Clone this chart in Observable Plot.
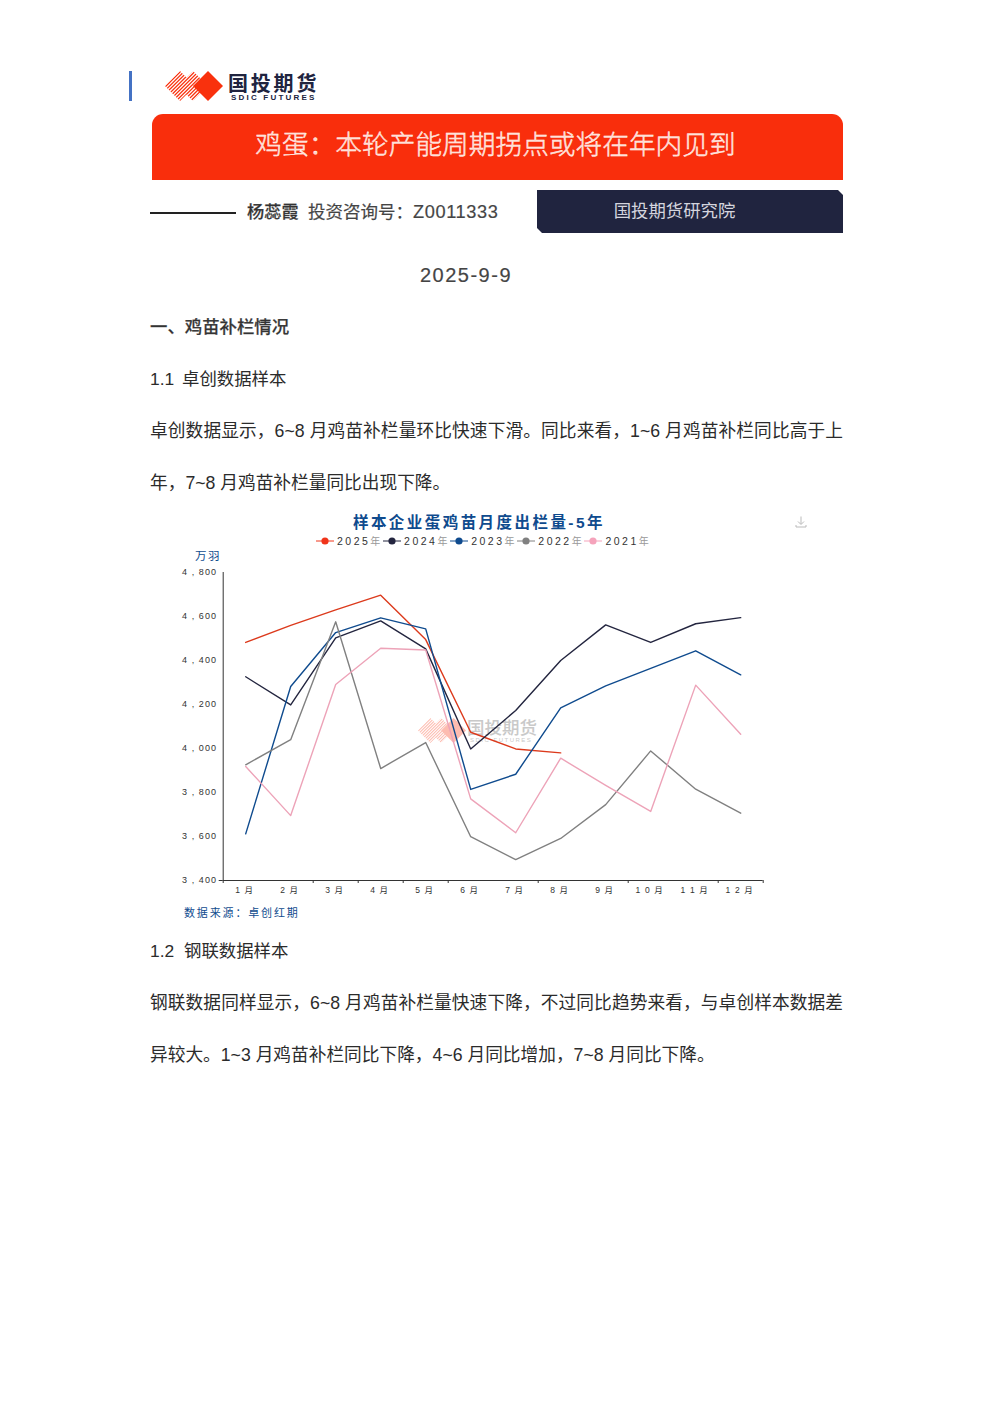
<!DOCTYPE html>
<html lang="zh">
<head>
<meta charset="utf-8">
<script src="https://cdn.jsdelivr.net/npm/d3@7"></script>
<script src="https://cdn.jsdelivr.net/npm/@observablehq/plot@0.6"></script>
<style>
html,body{margin:0;padding:0;background:#fff;}
#page{position:relative;width:992px;height:1403px;overflow:hidden;font-family:"Liberation Sans","Noto Sans CJK SC",sans-serif;color:#2b2b2b;}
.t{position:absolute;white-space:nowrap;line-height:1;}
.body{font-size:17.7px;left:150px;}
.head{font-size:17.4px;left:150px;}
.just{width:693px;white-space:normal;text-align:justify;text-align-last:justify;}
.bold{font-weight:500;color:#333;-webkit-text-stroke:.25px #555;}
svg{display:block;}
.abs{position:absolute;}
</style>
</head>
<body>
<div id="page"></div>
<script>
const months = ["1月","2月","3月","4月","5月","6月","7月","8月","9月","10月","11月","12月"];
const yearNames = ["2025年","2024年","2023年","2022年","2021年"];
const yearColors = ["#dc3a1c","#23253f","#0f4b8e","#808080","#eda3b8"];
const dotColors = ["#f0341a","#23253f","#0f4b8e","#808080","#f5a3bb"];
const v2025 = [4482,4560,4630,4697,4495,4074,3998,3980];
const v2024 = [4326,4198,4503,4580,4453,3998,4173,4400,4562,4482,4567,4595];
const v2023 = [3612,4282,4527,4594,4544,3814,3883,4185,4285,4364,4444,4335];
const v2022 = [3926,4040,4576,3909,4027,3599,3495,3591,3745,3989,3815,3706];
const v2021 = [3918,3695,4291,4456,4448,3771,3617,3956,3832,3714,4288,4065];
const yTicks = [3400,3600,3800,4000,4200,4400,4600,4800];
const xTickEdges = [0.5,2.5,3.5,4.5,5.5,7.5,9.5,11.5,12.5];
const series = [v2025,v2024,v2023,v2022,v2021];
const rows = series.flatMap((vals,s)=>vals.map((v,i)=>({m:i+1,v,s})));

const page = document.getElementById("page");
function add(html){page.insertAdjacentHTML("beforeend",html);}
let logoId=0;
function logoMark(left,top,w,h,opacity){
  const id="lg"+(logoId++);
  let stripes="";
  for(let x=-32;x<50;x+=3.6) stripes+=`<line x1="${x}" y1="30" x2="${x+30}" y2="0"/>`;
  return `<svg class="abs" style="left:${left}px;top:${top}px;opacity:${opacity}" width="${w}" height="${h}" viewBox="0 0 58 30">
  <defs><clipPath id="${id}"><path d="M15 0L30 15L15 30L0 15Z M28 0L43 15L28 30L13 15Z"/></clipPath></defs>
  <g clip-path="url(#${id})" stroke="#f9310d" stroke-width="1.25">${stripes}</g>
  <path d="M43 0L58 15L43 30L28 15Z" fill="#f9310d"/></svg>`;
}

// page header
add(`<div class="abs" style="left:129px;top:71px;width:3px;height:30px;background:#4472c4"></div>`);
add(logoMark(165,71,58,30,1));
add(`<div class="t" style="left:228px;top:74px;font-size:20px;font-weight:700;color:#20243f;letter-spacing:2.8px;">国投期货</div>`);
add(`<div class="t" style="left:231px;top:94px;font-size:8px;font-weight:700;color:#20243f;letter-spacing:2.2px;">SDIC FUTURES</div>`);
add(`<div class="abs" style="left:152px;top:114px;width:691px;height:66px;background:#f92e0c;border-radius:11px 11px 0 0"></div>`);
add(`<div class="t" style="left:152px;width:687px;text-align:center;top:132px;font-size:26.7px;color:#ffd6c8;font-weight:300;-webkit-text-stroke:.4px #fff;">鸡蛋：本轮产能周期拐点或将在年内见到</div>`);
add(`<div class="abs" style="left:150px;top:212px;width:86px;height:2px;background:#222"></div>`);
add(`<div class="t bold" style="left:247px;top:204px;font-size:17.2px;">杨蕊霞</div>`);
add(`<div class="t" style="left:308px;top:204px;font-size:17.5px;color:#444;-webkit-text-stroke:.2px #555;">投资咨询号：</div>`);
add(`<div class="t" style="left:413px;top:203px;font-size:18.2px;color:#444;letter-spacing:.6px;-webkit-text-stroke:.2px #555;">Z0011333</div>`);
add(`<div class="abs" style="left:537px;top:190px;width:306px;height:43px;background:#20243f;clip-path:polygon(0 0,calc(100% - 5px) 0,100% 5px,100% 100%,5px 100%,0 calc(100% - 5px))"></div>`);
add(`<div class="t" style="left:537px;width:275px;text-align:center;top:203px;font-size:17.4px;color:#d4d5de;">国投期货研究院</div>`);
add(`<div class="t" style="left:366px;width:200px;text-align:center;top:265px;font-size:20px;letter-spacing:1.5px;color:#444;-webkit-text-stroke:.2px #555;">2025-9-9</div>`);

// page text
add(`<div class="t head bold" style="top:319px;">一、鸡苗补栏情况</div>`);
add(`<div class="t head" style="top:370.5px;">1.1<span style="display:inline-block;width:7.8px"></span>卓创数据样本</div>`);
add(`<div class="t body just" style="top:423px;">卓创数据显示，6~8 月鸡苗补栏量环比快速下滑。同比来看，1~6 月鸡苗补栏同比高于上</div>`);
add(`<div class="t body" style="top:475px;">年，7~8 月鸡苗补栏量同比出现下降。</div>`);
add(`<div class="t head" style="top:942.5px;">1.2<span style="display:inline-block;width:9.8px"></span>钢联数据样本</div>`);
add(`<div class="t body just" style="top:995px;">钢联数据同样显示，6~8 月鸡苗补栏量快速下降，不过同比趋势来看，与卓创样本数据差</div>`);
add(`<div class="t body" style="top:1047px;">异较大。1~3 月鸡苗补栏同比下降，4~6 月同比增加，7~8 月同比下降。</div>`);

// chart title, legend, unit
add(`<div class="t" style="left:329px;width:300px;text-align:center;top:514.5px;font-size:15.5px;font-weight:700;color:#0f4b8e;letter-spacing:2.45px;">样本企业蛋鸡苗月度出栏量-5年</div>`);
yearNames.forEach((name,i)=>{
  const x=316+i*67.1;
  add(`<svg class="abs" style="left:${x}px;top:535px" width="18" height="12"><line x1="0" x2="18" y1="6" y2="6" stroke="${dotColors[i]}" stroke-width="1"/><circle cx="9" cy="6" r="3.6" fill="${dotColors[i]}"/></svg>`);
  add(`<div class="t" style="left:${x+21}px;top:536px;font-size:10.5px;letter-spacing:2.5px;color:#333;">${name.slice(0,4)}<span style="color:#999;font-size:10px;letter-spacing:0">${name.slice(4)}</span></div>`);
});
add(`<div class="t" style="left:195px;top:550.5px;font-size:11.5px;letter-spacing:1.6px;color:#0f4b8e;">万羽</div>`);
add(`<svg class="abs" style="left:795px;top:516px" width="12" height="12" fill="none" stroke="#bbb" stroke-width="1"><path d="M6 0.5V8M3 5.5L6 8.5L9 5.5M1 9V11H11V9"/></svg>`);
add(`<div class="t" style="left:184px;top:907.5px;font-size:11px;letter-spacing:1.85px;color:#0f4b8e;">数据来源：卓创红期</div>`);

// watermark, under the chart
add(logoMark(418,718,48,25,0.32));
add(`<div class="t" style="left:467px;top:720px;font-size:17.5px;font-weight:500;color:#c9c9c9;">国投期货</div>`);
add(`<div class="t" style="left:470px;top:736.5px;font-size:6px;font-weight:500;color:#c9c9c9;letter-spacing:1.5px;">SDIC FUTURES</div>`);

// chart
const chart = Plot.plot({
  width:610, height:345,
  marginLeft:52.7, marginRight:17.3, marginTop:12, marginBottom:25,
  style:{background:"transparent",fontFamily:'"Liberation Sans","Noto Sans CJK SC",sans-serif',fontSize:"9px",letterSpacing:"1.1px",color:"#333",overflow:"visible"},
  x:{type:"linear",domain:[0.5,12.5]},
  y:{type:"linear",domain:[3400,4800]},
  marks:[
    Plot.axisY({ticks:yTicks,tickSize:0,tickPadding:6,label:null,fontSize:9,
      tickFormat:d=>d3.format(",")(d).replace(","," , ")}),
    Plot.axisY({ticks:[3400],tickSize:4,tickFormat:()=>"",label:null,stroke:"#333"}),
    Plot.axisX({ticks:xTickEdges,tickSize:3,tickFormat:()=>"",label:null,stroke:"#333"}),
    Plot.axisX({ticks:d3.range(1,13),tickSize:0,tickPadding:6,label:null,fontSize:8.5,dx:-1,
      tickFormat:d=>months[d-1].replace(/(\d+)/,m=>m.split("").join(" ")+" ")}),
    Plot.ruleX([0.5],{stroke:"#333",strokeWidth:1}),
    Plot.ruleY([3400],{stroke:"#333",strokeWidth:1}),
    Plot.line(rows,{x:"m",y:"v",z:"s",stroke:d=>yearColors[d.s],strokeWidth:1.4,curve:"linear"})
  ]
});
chart.style.position="absolute";
chart.style.left="169.5px";
chart.style.top="559.5px";
page.appendChild(chart);
</script>
</body>
</html>
